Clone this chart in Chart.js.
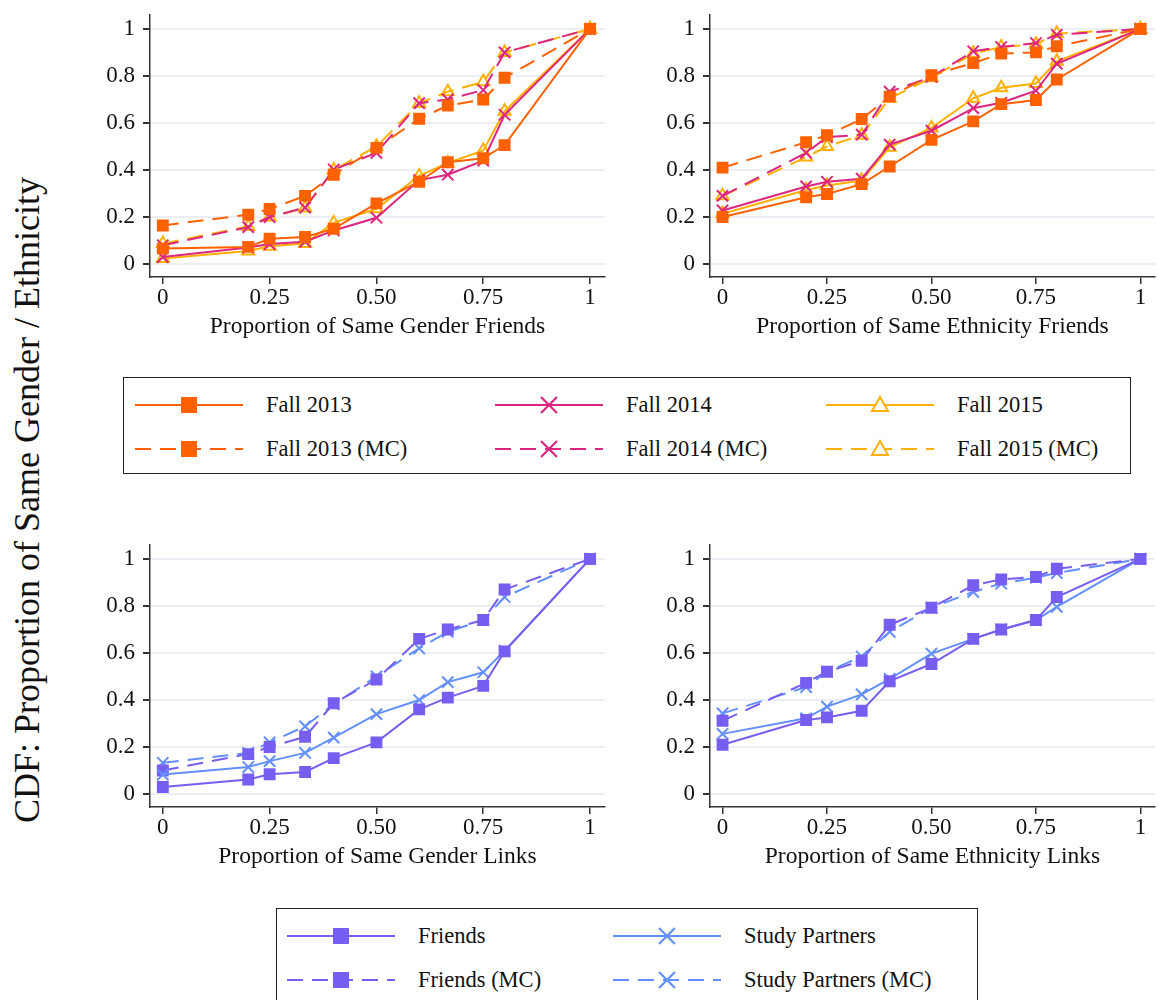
<!DOCTYPE html>
<html>
<head>
<meta charset="utf-8">
<script src="https://cdn.jsdelivr.net/npm/chart.js@4"></script>
<style>
body { margin: 0; background: #fff; font-family: "Liberation Serif", serif; }
#wrap { position: relative; width: 1159px; height: 1000px; overflow: hidden; }
canvas.panel { position: absolute; }
.legend { position: absolute; border: 1.5px solid #222; box-sizing: border-box; }
.item { position: absolute; height: 30px; font-size: 22.5px; line-height: 30px; color: #111; white-space: nowrap; }
.item svg { position: absolute; left: 0; top: 0; }
.item span { position: absolute; }
#ytitle { position: absolute; left: 27px; top: 500px; transform: translate(-50%, -50%) rotate(-90deg); font-size: 36px; white-space: nowrap; color: #111; }
</style>
</head>
<body>
<div id="wrap">
  <div id="ytitle">CDF: Proportion of Same Gender / Ethnicity</div>
  <canvas class="panel" id="p1" width="525" height="352" style="left:90px;top:-7px"></canvas>
  <canvas class="panel" id="p2" width="515" height="352" style="left:650px;top:-7px"></canvas>
  <canvas class="panel" id="p3" width="525" height="352" style="left:90px;top:523px"></canvas>
  <canvas class="panel" id="p4" width="515" height="352" style="left:650px;top:523px"></canvas>
  <div class="legend" id="leg1" style="left:123px;top:377px;width:1008px;height:97px"></div>
  <div class="legend" id="leg2" style="left:276px;top:908px;width:702px;height:100px"></div>
</div>
<script>
const xVals = [0, 0.2, 0.25, 0.333, 0.4, 0.5, 0.6, 0.667, 0.75, 0.8, 1];
const xTicks = [0, 0.25, 0.5, 0.75, 1];
const xTickLabels = ['0', '0.25', '0.50', '0.75', '1'];
const yTicks = [0, 0.2, 0.4, 0.6, 0.8, 1];
const yTickLabels = ['0', '0.2', '0.4', '0.6', '0.8', '1'];

// gender friends
const gF13 = [0.066, 0.073, 0.108, 0.115, 0.15, 0.258, 0.35, 0.433, 0.45, 0.506, 1];
const gF14 = [0.03, 0.07, 0.085, 0.095, 0.143, 0.197, 0.357, 0.38, 0.44, 0.635, 1];
const gF15 = [0.024, 0.056, 0.076, 0.087, 0.175, 0.235, 0.375, 0.43, 0.483, 0.65, 1];
const gF13mc = [0.164, 0.21, 0.234, 0.29, 0.38, 0.494, 0.618, 0.674, 0.7, 0.792, 1];
const gF14mc = [0.08, 0.157, 0.2, 0.24, 0.402, 0.473, 0.684, 0.7, 0.74, 0.9, 1];
const gF15mc = [0.087, 0.16, 0.2, 0.238, 0.4, 0.5, 0.684, 0.733, 0.775, 0.9, 1];
// ethnicity friends
const eF13 = [0.2, 0.284, 0.298, 0.34, 0.415, 0.528, 0.607, 0.68, 0.698, 0.785, 1];
const eF14 = [0.228, 0.33, 0.35, 0.363, 0.508, 0.567, 0.663, 0.686, 0.737, 0.852, 1];
const eF15 = [0.214, 0.315, 0.334, 0.355, 0.497, 0.579, 0.705, 0.75, 0.768, 0.862, 1];
const eF13mc = [0.41, 0.518, 0.548, 0.617, 0.712, 0.803, 0.855, 0.895, 0.9, 0.926, 1];
const eF14mc = [0.29, 0.473, 0.54, 0.55, 0.733, 0.796, 0.905, 0.923, 0.94, 0.975, 1];
const eF15mc = [0.29, 0.455, 0.5, 0.548, 0.705, 0.792, 0.895, 0.923, 0.935, 0.98, 1];
// gender links
const gFriends = [0.03, 0.062, 0.084, 0.094, 0.153, 0.22, 0.36, 0.41, 0.46, 0.607, 1];
const gStudy = [0.083, 0.115, 0.14, 0.175, 0.24, 0.34, 0.4, 0.476, 0.518, 0.61, 1];
const gFriendsMc = [0.1, 0.17, 0.2, 0.244, 0.386, 0.487, 0.66, 0.7, 0.74, 0.87, 1];
const gStudyMc = [0.133, 0.175, 0.22, 0.288, 0.382, 0.5, 0.62, 0.69, 0.74, 0.838, 1];
// ethnicity links
const eFriends = [0.21, 0.315, 0.326, 0.354, 0.48, 0.553, 0.66, 0.7, 0.74, 0.838, 1];
const eStudy = [0.256, 0.322, 0.372, 0.424, 0.49, 0.597, 0.66, 0.7, 0.74, 0.796, 1];
const eFriendsMc = [0.312, 0.473, 0.52, 0.567, 0.72, 0.792, 0.888, 0.913, 0.923, 0.958, 1];
const eStudyMc = [0.343, 0.455, 0.52, 0.585, 0.69, 0.792, 0.86, 0.895, 0.92, 0.94, 1];

const ORANGE = '#FE6100', MAGENTA = '#DC267F', GOLD = '#FFB000', PURPLE = '#785EF0', BLUE = '#648FFF';
const DASH = [16, 9];

const styles = {
    f13: { color: ORANGE, point: 'rect', fill: true, radius: 7 },
    f14: { color: MAGENTA, point: 'crossRot', fill: false, radius: 8 },
    f15: { color: GOLD, point: 'triangle', fill: false, radius: 7 },
    friends: { color: PURPLE, point: 'rect', fill: true, radius: 7 },
    study: { color: BLUE, point: 'crossRot', fill: false, radius: 8 }
};

function ds(values, st, dashed) {
    return {
        data: xVals.map((x, i) => ({ x: x, y: values[i] })),
        showLine: true,
        borderColor: st.color,
        borderWidth: 2,
        borderDash: dashed ? DASH : [],
        pointStyle: st.point,
        pointRadius: st.radius,
        pointBorderColor: st.color,
        pointBackgroundColor: st.fill ? st.color : 'rgba(0,0,0,0)',
        pointBorderWidth: 2,
        tension: 0
    };
}

const FONT = 'Liberation Serif';

function makePanel(id, datasets, xTitle) {
    new Chart(document.getElementById(id), {
        type: 'scatter',
        data: { datasets: datasets },
        options: {
            responsive: false,
            animation: false,
            layout: { padding: { top: 0, right: 8 } },
            plugins: { legend: { display: false }, tooltip: { enabled: false } },
            scales: {
                x: {
                    type: 'linear', min: -0.03, max: 1.035,
                    afterBuildTicks: s => { s.ticks = xTicks.map(v => ({ value: v })); },
                    afterFit: s => { s.height = 68; },
                    border: { color: '#333', width: 1.5 },
                    grid: { drawOnChartArea: false, tickColor: '#333', tickLength: 7, lineWidth: 1.5 },
                    ticks: {
                        color: '#111', font: { family: FONT, size: 23 }, padding: 0,
                        callback: v => xTickLabels[xTicks.indexOf(v)]
                    },
                    title: { display: true, text: xTitle, color: '#111', font: { family: FONT, size: 23.5 }, padding: { top: 0 } }
                },
                y: {
                    type: 'linear', min: -0.055, max: 1.06,
                    afterBuildTicks: s => { s.ticks = yTicks.map(v => ({ value: v })); },
                    afterFit: s => { s.width = 60; },
                    border: { color: '#333', width: 1.5 },
                    grid: { color: '#e9eff4', lineWidth: 2, tickColor: '#333', tickLength: 7 },
                    ticks: {
                        color: '#111', font: { family: FONT, size: 23 }, padding: 8,
                        callback: v => yTickLabels[yTicks.indexOf(v)]
                    }
                }
            }
        }
    });
}

makePanel('p1', [ds(gF13, styles.f13), ds(gF14, styles.f14), ds(gF15, styles.f15),
    ds(gF13mc, styles.f13, true), ds(gF14mc, styles.f14, true), ds(gF15mc, styles.f15, true)],
    'Proportion of Same Gender Friends');
makePanel('p2', [ds(eF13, styles.f13), ds(eF14, styles.f14), ds(eF15, styles.f15),
    ds(eF13mc, styles.f13, true), ds(eF14mc, styles.f14, true), ds(eF15mc, styles.f15, true)],
    'Proportion of Same Ethnicity Friends');
makePanel('p3', [ds(gFriends, styles.friends), ds(gStudy, styles.study),
    ds(gFriendsMc, styles.friends, true), ds(gStudyMc, styles.study, true)],
    'Proportion of Same Gender Links');
makePanel('p4', [ds(eFriends, styles.friends), ds(eStudy, styles.study),
    ds(eFriendsMc, styles.friends, true), ds(eStudyMc, styles.study, true)],
    'Proportion of Same Ethnicity Links');

// legend samples
function markerSvg(st) {
    const c = st.color;
    if (st.point === 'rect') return `<rect x="46" y="7" width="16" height="16" fill="${c}"/>`;
    if (st.point === 'crossRot') return `<path d="M46 7 L62 23 M62 7 L46 23" stroke="${c}" stroke-width="2.2"/>`;
    return `<path d="M54 7 L62 21 L46 21 Z" fill="#fff" stroke="${c}" stroke-width="2"/>`;
}
function addItem(legId, left, top, label, st, dashed) {
    const div = document.createElement('div');
    div.className = 'item';
    div.style.left = left + 'px';
    div.style.top = top + 'px';
    const dash = dashed ? `stroke-dasharray="16 9"` : '';
    div.innerHTML = `<svg width="110" height="30"><line x1="0" y1="15" x2="108" y2="15" stroke="${st.color}" stroke-width="2" ${dash}/>${markerSvg(st)}</svg><span style="left:131px">${label}</span>`;
    document.getElementById(legId).appendChild(div);
}
const leg1Items = [['Fall 2013', 'f13'], ['Fall 2014', 'f14'], ['Fall 2015', 'f15']];
const leg1Cols = [11, 371, 702];
leg1Items.forEach((it, i) => {
    addItem('leg1', leg1Cols[i], 12, it[0], styles[it[1]], false);
    addItem('leg1', leg1Cols[i], 56, it[0] + ' (MC)', styles[it[1]], true);
});
const leg2Items = [['Friends', 'friends'], ['Study Partners', 'study']];
const leg2Cols = [10, 336];
leg2Items.forEach((it, i) => {
    addItem('leg2', leg2Cols[i], 12, it[0], styles[it[1]], false);
    addItem('leg2', leg2Cols[i], 56, it[0] + ' (MC)', styles[it[1]], true);
});
</script>
</body>
</html>
